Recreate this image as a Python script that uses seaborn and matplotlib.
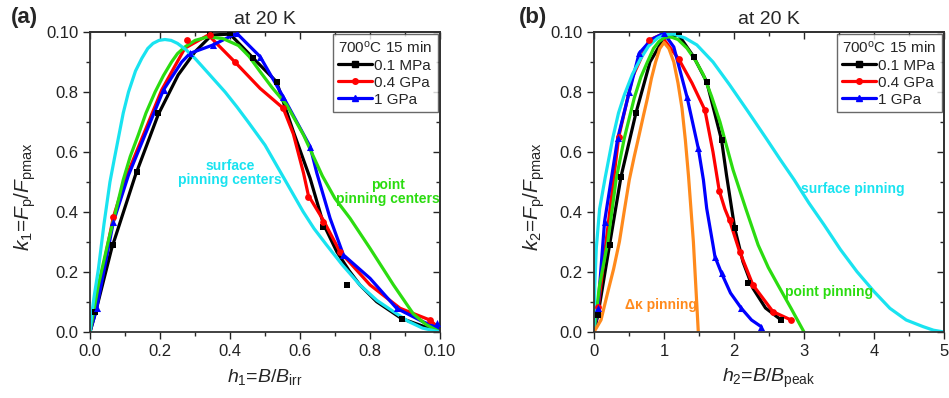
import numpy as np
import matplotlib
matplotlib.use('Agg')
import matplotlib.pyplot as plt
from matplotlib.lines import Line2D
from matplotlib.ticker import MultipleLocator
import seaborn as sns

# ---- panel (a): k1 vs h1 = B/Birr ----
a_surf_x = [0, 0.005, 0.012, 0.024, 0.04, 0.057, 0.07, 0.081, 0.095, 0.11, 0.13, 0.148, 0.165, 0.18,
            0.197, 0.214, 0.232, 0.25, 0.275, 0.30, 0.34, 0.386, 0.42, 0.452, 0.50, 0.557, 0.609, 0.64,
            0.676, 0.72, 0.771, 0.82, 0.867, 0.91, 0.95, 1.0]
a_surf_y = [0, 0.06, 0.12, 0.21, 0.36, 0.50, 0.58, 0.646, 0.73, 0.80, 0.87, 0.912, 0.945, 0.962,
            0.972, 0.975, 0.972, 0.962, 0.94, 0.912, 0.86, 0.80, 0.75, 0.70, 0.623, 0.507, 0.401, 0.345,
            0.29, 0.225, 0.157, 0.105, 0.068, 0.035, 0.013, 0.0]
a_point_x = [0, 0.024, 0.052, 0.075, 0.095, 0.115, 0.138, 0.16, 0.186, 0.21, 0.233, 0.25, 0.271, 0.30,
             0.338, 0.38, 0.424, 0.455, 0.486, 0.52, 0.562, 0.61, 0.664, 0.70, 0.743, 0.80, 0.867,
             0.924, 0.96, 1.0]
a_point_y = [0, 0.157, 0.301, 0.41, 0.507, 0.585, 0.657, 0.73, 0.80, 0.855, 0.90, 0.928, 0.950, 0.972,
             0.984, 0.978, 0.955, 0.918, 0.868, 0.815, 0.757, 0.657, 0.52, 0.445, 0.379, 0.279, 0.157,
             0.06, 0.025, 0.0]

a_k_line_x = [0, 0.014, 0.062, 0.129, 0.195, 0.252, 0.30, 0.348, 0.40, 0.467, 0.533, 0.581, 0.629, 0.667,
              0.705, 0.74, 0.771, 0.819, 0.89, 0.95, 1.0]
a_k_line_y = [0, 0.057, 0.279, 0.52, 0.725, 0.857, 0.934, 0.99, 0.993, 0.912, 0.834, 0.668, 0.512, 0.36,
              0.268, 0.205, 0.157, 0.101, 0.045, 0.02, 0.0]
a_k_pts_x = [0.014, 0.067, 0.133, 0.195, 0.343, 0.40, 0.467, 0.533, 0.667, 0.733, 0.89]
a_k_pts_y = [0.068, 0.29, 0.534, 0.729, 0.997, 0.997, 0.912, 0.834, 0.351, 0.157, 0.042]

a_r_line_x = [0, 0.067, 0.10, 0.205, 0.271, 0.338, 0.414, 0.486, 0.552, 0.581, 0.61, 0.624, 0.667, 0.714,
              0.80, 0.886, 0.971, 1.0]
a_r_line_y = [0, 0.384, 0.507, 0.807, 0.946, 0.99, 0.90, 0.812, 0.746, 0.66, 0.53, 0.455, 0.372, 0.268,
              0.157, 0.079, 0.04, 0.01]
a_r_pts_x = [0.067, 0.276, 0.343, 0.414, 0.552, 0.624, 0.667, 0.714, 0.971]
a_r_pts_y = [0.384, 0.973, 0.99, 0.90, 0.746, 0.451, 0.368, 0.268, 0.04]

a_b_line_x = [0, 0.019, 0.067, 0.11, 0.21, 0.262, 0.286, 0.352, 0.419, 0.486, 0.552, 0.629, 0.648, 0.686,
              0.724, 0.80, 0.876, 0.95, 1.0]
a_b_line_y = [0, 0.079, 0.368, 0.523, 0.807, 0.90, 0.929, 0.957, 0.996, 0.918, 0.784, 0.618, 0.53, 0.379,
              0.257, 0.179, 0.079, 0.035, 0.01]
a_b_pts_x = [0.019, 0.067, 0.21, 0.286, 0.352, 0.419, 0.486, 0.552, 0.629, 0.724, 0.876, 0.99]
a_b_pts_y = [0.079, 0.368, 0.807, 0.929, 0.957, 0.996, 0.918, 0.784, 0.618, 0.257, 0.079, 0.029]

# ---- panel (b): k2 vs h2 = B/Bpeak ----
b_dk_x = [0, 0.1, 0.198, 0.28, 0.363, 0.43, 0.504, 0.575, 0.645, 0.705, 0.763, 0.82, 0.88, 0.94, 1.0,
          1.07, 1.14, 1.2, 1.257, 1.305, 1.35, 1.385, 1.42, 1.455, 1.49]
b_dk_y = [0, 0.04, 0.134, 0.21, 0.301, 0.40, 0.507, 0.585, 0.657, 0.72, 0.779, 0.845, 0.90, 0.945, 0.965,
          0.945, 0.90, 0.83, 0.746, 0.64, 0.52, 0.41, 0.30, 0.15, 0.0]
b_surf_x = [0, 0.01, 0.033, 0.08, 0.16, 0.268, 0.35, 0.433, 0.55, 0.668, 0.78, 0.904, 1.02, 1.14, 1.3,
            1.469, 1.7, 1.94, 2.2, 2.458, 2.66, 2.86, 3.07, 3.287, 3.52, 3.757, 4.0, 4.227, 4.46, 4.70,
            4.85, 5.0]
b_surf_y = [0, 0.15, 0.28, 0.41, 0.515, 0.646, 0.73, 0.79, 0.86, 0.912, 0.953, 0.979, 0.992, 0.993, 0.98,
            0.957, 0.90, 0.823, 0.735, 0.646, 0.575, 0.507, 0.43, 0.357, 0.275, 0.201, 0.135, 0.079,
            0.04, 0.018, 0.006, 0.0]
b_point_x = [0, 0.08, 0.198, 0.315, 0.433, 0.574, 0.67, 0.763, 0.85, 0.928, 1.01, 1.092, 1.2, 1.328,
             1.45, 1.563, 1.68, 1.80, 1.987, 2.17, 2.345, 2.49, 2.627, 2.815, 3.0]
b_point_y = [0, 0.157, 0.301, 0.507, 0.646, 0.779, 0.85, 0.90, 0.945, 0.968, 0.982, 0.984, 0.975, 0.946,
             0.905, 0.857, 0.785, 0.70, 0.54, 0.41, 0.29, 0.215, 0.157, 0.079, 0.0]

b_k_line_x = [0, 0.056, 0.222, 0.386, 0.598, 0.80, 1.0, 1.21, 1.422, 1.61, 1.822, 1.893, 2.01, 2.128,
              2.27, 2.45, 2.674]
b_k_line_y = [0, 0.057, 0.29, 0.518, 0.729, 0.90, 0.98, 0.99, 0.918, 0.834, 0.64, 0.523, 0.346, 0.234,
              0.146, 0.08, 0.04]
b_k_pts_x = [0.056, 0.222, 0.386, 0.598, 1.21, 1.422, 1.61, 1.822, 2.01, 2.199, 2.674]
b_k_pts_y = [0.057, 0.29, 0.518, 0.729, 1.0, 0.918, 0.834, 0.64, 0.346, 0.162, 0.04]

b_r_line_x = [0, 0.061, 0.353, 0.55, 0.789, 0.95, 1.21, 1.40, 1.584, 1.70, 1.79, 1.87, 1.94, 2.08, 2.27,
              2.556, 2.815]
b_r_line_y = [0, 0.084, 0.65, 0.85, 0.973, 0.99, 0.91, 0.83, 0.74, 0.60, 0.47, 0.41, 0.37, 0.268, 0.157,
              0.068, 0.04]
b_r_pts_x = [0.061, 0.353, 0.789, 1.21, 1.584, 1.79, 1.94, 2.08, 2.27, 2.556, 2.815]
b_r_pts_y = [0.084, 0.65, 0.973, 0.91, 0.74, 0.47, 0.373, 0.268, 0.157, 0.068, 0.04]

b_b_line_x = [0, 0.056, 0.151, 0.339, 0.504, 0.645, 0.82, 0.998, 1.14, 1.328, 1.49, 1.563, 1.61, 1.70,
              1.728, 1.822, 1.95, 2.105, 2.25, 2.387]
b_b_line_y = [0, 0.079, 0.368, 0.646, 0.80, 0.929, 0.975, 0.996, 0.95, 0.784, 0.612, 0.507, 0.412, 0.29,
              0.251, 0.196, 0.13, 0.079, 0.04, 0.018]
b_b_pts_x = [0.056, 0.151, 0.339, 0.504, 0.645, 0.998, 1.328, 1.49, 1.728, 1.822, 2.105, 2.387]
b_b_pts_y = [0.079, 0.368, 0.646, 0.80, 0.929, 0.996, 0.784, 0.612, 0.251, 0.196, 0.079, 0.018]

y_ticklabels = ['0.0', '0.2', '0.4', '0.6', '0.8', '0.10']
a_x_ticklabels = ['0.0', '0.2', '0.4', '0.6', '0.8', '0.10']
b_x_ticklabels = ['0', '1', '2', '3', '4', '5']
series_labels = ['0.1 MPa', '0.4 GPa', '1 GPa']

BLACK, RED, BLUE = '#000000', '#ff0000', '#0000ff'
CYAN, GREEN, ORANGE = '#19e3f0', '#2bdc10', '#ff8a1c'


def style_axes(ax, xmax, xmajor, xminor, xticklabels):
    ax.set_xlim(0, xmax)
    ax.set_ylim(0, 1.0)
    ax.set_xticks(np.arange(0, xmax + 1e-9, xmajor))
    ax.set_xticklabels(xticklabels)
    ax.set_yticks(np.arange(0, 1.0001, 0.2))
    ax.set_yticklabels(y_ticklabels)
    ax.xaxis.set_minor_locator(MultipleLocator(xminor))
    ax.yaxis.set_minor_locator(MultipleLocator(0.1))
    ax.tick_params(which='major', direction='out', length=5, width=1, labelsize=12, colors='#222222')
    ax.tick_params(which='minor', direction='out', length=3, width=1)
    for s in ax.spines.values():
        s.set_linewidth(1.3)
        s.set_color('#333333')
        s.set_visible(True)
    # mirrored ticks pointing inward on top / right
    top = ax.secondary_xaxis('top')
    top.set_xticks(np.arange(0, xmax + 1e-9, xmajor))
    top.xaxis.set_minor_locator(MultipleLocator(xminor))
    top.tick_params(which='major', direction='in', length=5, width=1, labeltop=False)
    top.tick_params(which='minor', direction='in', length=3, width=1)
    right = ax.secondary_yaxis('right')
    right.set_yticks(np.arange(0, 1.0001, 0.2))
    right.yaxis.set_minor_locator(MultipleLocator(0.1))
    right.tick_params(which='major', direction='in', length=5, width=1, labelright=False)
    right.tick_params(which='minor', direction='in', length=3, width=1)
    for sec in (top, right):
        for s in sec.spines.values():
            s.set_linewidth(1.3)
            s.set_color('#333333')


def draw_series(ax, lx, ly, px, py, color, marker, ms):
    sns.lineplot(x=lx, y=ly, color=color, linewidth=2.3, sort=False, estimator=None, ax=ax)
    sns.scatterplot(x=px, y=py, color=color, marker=marker, s=ms, edgecolor=color, linewidth=0, ax=ax, zorder=3)


def add_legend(ax):
    handles = [Line2D([], [], color=BLACK, lw=2.3, marker='s', ms=4),
               Line2D([], [], color=RED, lw=2.3, marker='o', ms=4),
               Line2D([], [], color=BLUE, lw=2.3, marker='^', ms=4.5)]
    leg = ax.legend(handles, series_labels, title='700$^\\mathrm{o}$C 15 min', loc='upper right',
                    fontsize=11, title_fontsize=11, frameon=True, fancybox=False, edgecolor='#444444',
                    handlelength=2.2, handletextpad=0.1, borderaxespad=0.15, labelspacing=0.2,
                    borderpad=0.35)
    leg.get_frame().set_linewidth(1.0)
    leg._legend_box.align = 'left'


def main():
    sns.set_style('ticks')
    plt.rcParams['font.family'] = ['Liberation Sans', 'DejaVu Sans']
    plt.rcParams['mathtext.fontset'] = 'custom'
    plt.rcParams['mathtext.rm'] = 'Liberation Sans'
    plt.rcParams['mathtext.it'] = 'Liberation Sans:italic'
    plt.rcParams['mathtext.bf'] = 'Liberation Sans:bold'

    fig = plt.figure(figsize=(9.49, 3.98), dpi=100)
    ax1 = fig.add_axes([90 / 949, 66 / 398, 350 / 949, 300 / 398])
    ax2 = fig.add_axes([594 / 949, 66 / 398, 350 / 949, 300 / 398])

    # panel (a)
    draw_series(ax1, a_k_line_x, a_k_line_y, a_k_pts_x, a_k_pts_y, BLACK, 's', 20)
    draw_series(ax1, a_r_line_x, a_r_line_y, a_r_pts_x, a_r_pts_y, RED, 'o', 24)
    draw_series(ax1, a_b_line_x, a_b_line_y, a_b_pts_x, a_b_pts_y, BLUE, '^', 26)
    sns.lineplot(x=a_point_x, y=a_point_y, color=GREEN, linewidth=2.3, sort=False, estimator=None, ax=ax1)
    sns.lineplot(x=a_surf_x, y=a_surf_y, color=CYAN, linewidth=2.3, sort=False, estimator=None, ax=ax1)
    style_axes(ax1, 1.0, 0.2, 0.1, a_x_ticklabels)
    ax1.set_xlabel('$h_1$=$B$/$B_\\mathrm{irr}$', fontsize=14, labelpad=6)
    ax1.set_ylabel('$k_1$=$F_\\mathrm{p}$/$F_\\mathrm{pmax}$', fontsize=15)
    ax1.yaxis.set_label_coords(-0.15, 0.45)
    ax1.set_title('at 20 K', fontsize=14, pad=6)
    ax1.text(0.40, 0.53, 'surface\npinning centers', color=CYAN, fontsize=10, fontweight='bold',
             ha='center', va='center', linespacing=1.05)
    ax1.text(0.85, 0.467, 'point\npinning centers', color=GREEN, fontsize=10, fontweight='bold',
             ha='center', va='center', linespacing=1.05)
    add_legend(ax1)

    # panel (b)
    draw_series(ax2, b_k_line_x, b_k_line_y, b_k_pts_x, b_k_pts_y, BLACK, 's', 20)
    draw_series(ax2, b_r_line_x, b_r_line_y, b_r_pts_x, b_r_pts_y, RED, 'o', 24)
    draw_series(ax2, b_b_line_x, b_b_line_y, b_b_pts_x, b_b_pts_y, BLUE, '^', 26)
    sns.lineplot(x=b_point_x, y=b_point_y, color=GREEN, linewidth=2.3, sort=False, estimator=None, ax=ax2)
    sns.lineplot(x=b_surf_x, y=b_surf_y, color=CYAN, linewidth=2.3, sort=False, estimator=None, ax=ax2)
    sns.lineplot(x=b_dk_x, y=b_dk_y, color=ORANGE, linewidth=2.3, sort=False, estimator=None, ax=ax2)
    style_axes(ax2, 5.0, 1.0, 0.5, b_x_ticklabels)
    ax2.set_xlabel('$h_2$=$B$/$B_\\mathrm{peak}$', fontsize=14, labelpad=6)
    ax2.set_ylabel('$k_2$=$F_\\mathrm{p}$/$F_\\mathrm{pmax}$', fontsize=15)
    ax2.yaxis.set_label_coords(-0.135, 0.45)
    ax2.set_title('at 20 K', fontsize=14, pad=6)
    ax2.text(3.7, 0.477, 'surface pinning', color=CYAN, fontsize=10, fontweight='bold',
             ha='center', va='center')
    ax2.text(3.36, 0.133, 'point pinning', color=GREEN, fontsize=10, fontweight='bold',
             ha='center', va='center')
    ax2.text(0.96, 0.09, '\u0394\u03ba pinning', color=ORANGE, fontsize=10, fontweight='bold',
             ha='center', va='center')
    add_legend(ax2)

    fig.text(24 / 949, 1 - 18 / 398, '(a)', fontsize=16, fontweight='bold', ha='center', va='center')
    fig.text(533 / 949, 1 - 18 / 398, '(b)', fontsize=16, fontweight='bold', ha='center', va='center')

    fig.savefig('out.png', dpi=100)


if __name__ == '__main__':
    main()
